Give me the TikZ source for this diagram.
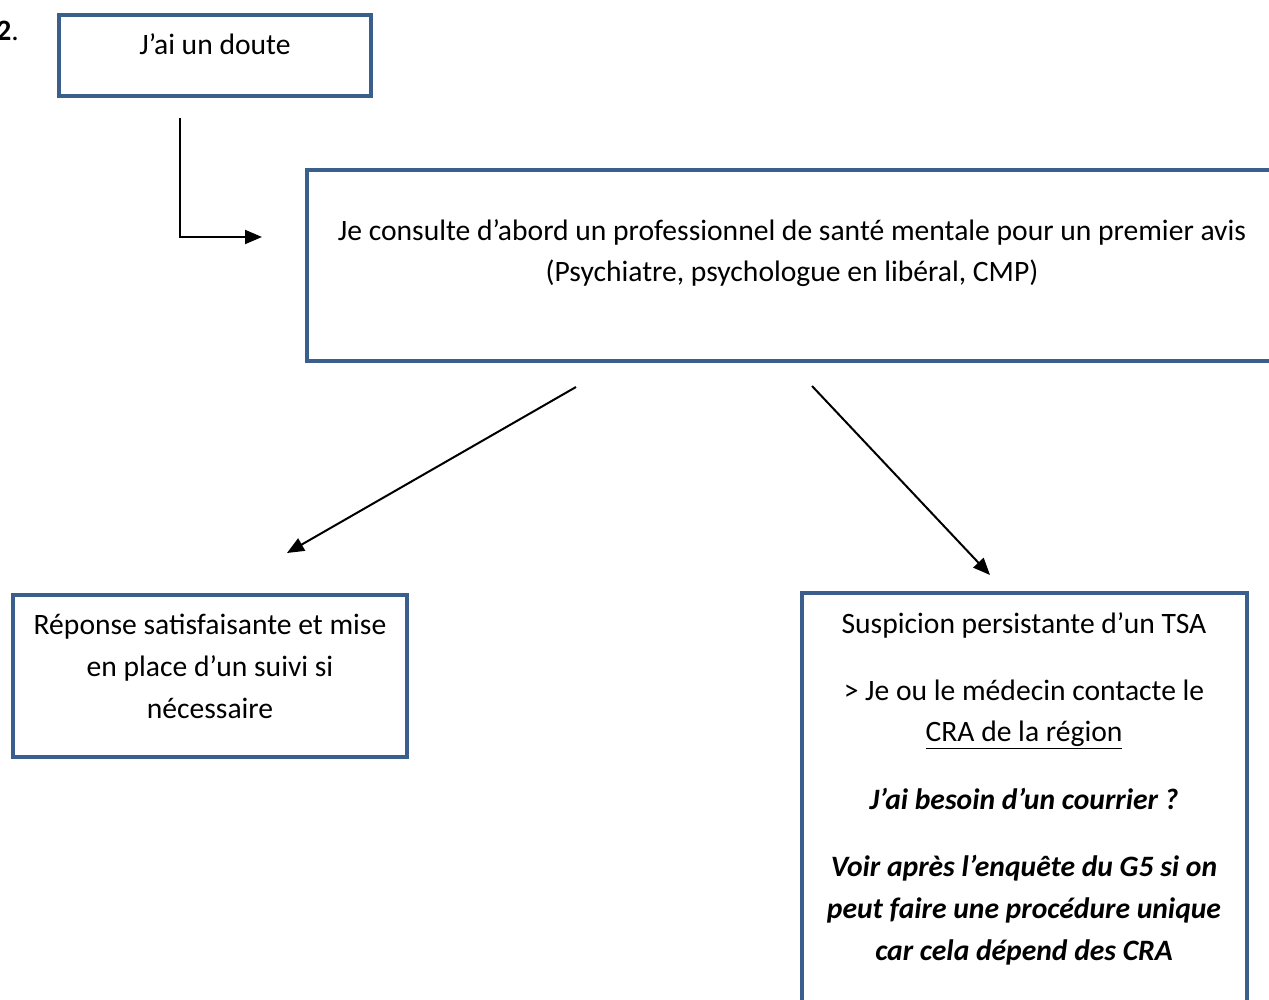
\documentclass[tikz,border=0pt]{standalone}
\usepackage{fontspec}
\setmainfont{Carlito}
\usetikzlibrary{arrows.meta}
\definecolor{boxblue}{HTML}{3A5F8D}
\tikzset{
  box/.style={draw=boxblue, line width=4pt, rectangle, inner sep=0pt},
  txt/.style={align=center, inner sep=0pt, font=\fontsize{29.6}{41.8}\selectfont},
  conn/.style={line width=2pt, draw=black},
  arr/.style={conn, -{Triangle[length=17pt,width=14pt]}}
}
\begin{document}
\begin{tikzpicture}[x=1pt,y=-1pt]
\useasboundingbox (0,0) rectangle (1269,1000);
\clip (0,0) rectangle (1269,1000);
% label
\node[txt, anchor=base east] (num) at (19,41) {\textbf{2}.};
% boxes
\node[box, minimum width=312pt, minimum height=81pt] (b1) at (215,55.5) {};
\node[box, minimum width=1000pt, minimum height=191pt] (b2) at (807,265.5) {};
\node[box, minimum width=394pt, minimum height=162pt] (b3) at (210,676) {};
\node[box, minimum width=445pt, minimum height=480pt] (b4) at (1024.5,833) {};
% texts
\node[txt, anchor=base] (t1) at (215,55) {J’ai un doute};
\node[txt, anchor=base] (t2) at (792,282) {Je consulte d’abord un professionnel de santé mentale pour un premier avis\\(Psychiatre, psychologue en libéral, CMP)};
\node[txt, anchor=base] (t3) at (210,718) {Réponse satisfaisante et mise\\en place d’un suivi si\\nécessaire};
\node[txt, anchor=base] (t4) at (1024,960) {Suspicion persistante d’un TSA\\[25pt]
> Je ou le médecin contacte le\\\underline{CRA de la région}\\[26pt]
\textbf{\textit{J’ai besoin d’un courrier ?}}\\[25pt]
\textbf{\textit{Voir après l’enquête du G5 si on}}\\\textbf{\textit{peut faire une procédure unique}}\\\textbf{\textit{car cela dépend des CRA}}};
% connector points
\coordinate (c1s) at (180,118);
\coordinate (c1m) at (180,237);
\coordinate (c1e) at (262,237);
\coordinate (c2s) at (576,387);
\coordinate (c2e) at (287,553);
\coordinate (c3s) at (812,386);
\coordinate (c3e) at (990,575);
\draw[arr] (c1s) -- (c1m) -- (c1e);
\draw[arr] (c2s) -- (c2e);
\draw[arr] (c3s) -- (c3e);
\end{tikzpicture}
\end{document}
